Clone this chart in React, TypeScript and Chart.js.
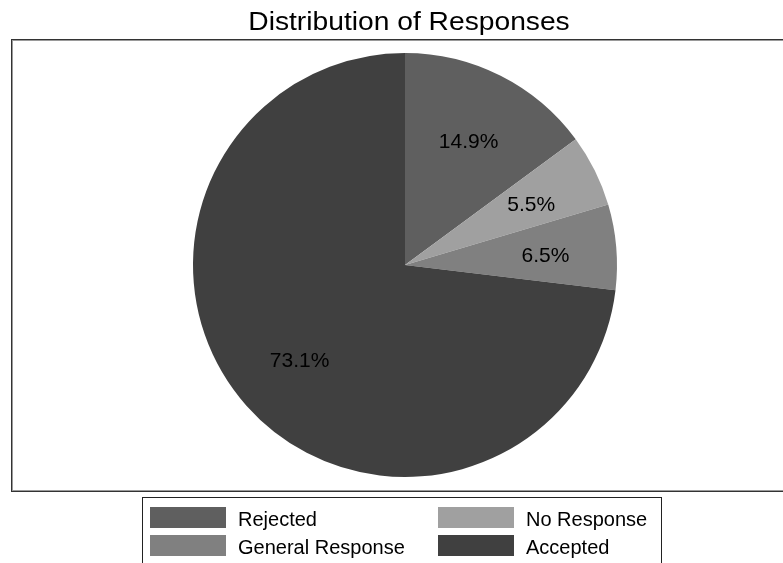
import React, { useEffect, useRef } from "react";
import { Chart, registerables } from "chart.js";

Chart.register(...registerables);

const categories = ["Rejected", "No Response", "General Response", "Accepted"];
const values = [14.9, 5.5, 6.5, 73.1];
const sliceColors = ["#5f5f5f", "#a0a0a0", "#808080", "#404040"];
const titleText = "Distribution of Responses";
const FONT = '"Liberation Sans", Arial, sans-serif';

const decorPlugin = {
  id: "decor",
  beforeDraw(chart: any) {
    const ctx = chart.ctx;
    ctx.save();
    ctx.fillStyle = "#ffffff";
    ctx.fillRect(0, 0, chart.width, chart.height);
    // title (slightly wide lettering, as in the reference)
    ctx.save();
    ctx.translate(409, 30);
    ctx.scale(1.085, 1);
    ctx.fillStyle = "#000000";
    ctx.font = `26px ${FONT}`;
    ctx.textAlign = "center";
    ctx.textBaseline = "alphabetic";
    ctx.fillText(titleText, 0, 0);
    ctx.restore();
    // plot box
    ctx.strokeStyle = "#333333";
    ctx.lineWidth = 1;
    ctx.strokeRect(11.5, 39.5, 800, 452);
    ctx.strokeStyle = "#9a9a9a";
    ctx.strokeRect(12.5, 40.5, 800, 450);
    ctx.restore();
  },
  afterDraw(chart: any) {
    const ctx = chart.ctx;
    const meta = chart.getDatasetMeta(0);
    ctx.save();
    // slice labels
    ctx.fillStyle = "#000000";
    ctx.font = `21px ${FONT}`;
    ctx.textAlign = "center";
    ctx.textBaseline = "middle";
    meta.data.forEach((arc: any, i: number) => {
      const mid = (arc.startAngle + arc.endAngle) / 2;
      const r = arc.outerRadius * 0.665;
      const x = arc.x + Math.cos(mid) * r;
      const y = arc.y + Math.sin(mid) * r + 3;
      ctx.fillText(values[i].toFixed(1) + "%", x, y);
    });
    // legend box
    ctx.strokeStyle = "#222222";
    ctx.lineWidth = 1;
    ctx.strokeRect(142.5, 497.5, 519, 100);
    const colX = [150, 438];
    const rowY = [507, 535];
    ctx.font = `20px ${FONT}`;
    ctx.textAlign = "left";
    ctx.textBaseline = "alphabetic";
    categories.forEach((c, i) => {
      const col = i % 2;
      const row = Math.floor(i / 2);
      ctx.fillStyle = sliceColors[i];
      ctx.fillRect(colX[col], rowY[row], 76, 21);
      ctx.fillStyle = "#000000";
      ctx.fillText(c, colX[col] + 88, rowY[row] + 19);
    });
    ctx.restore();
  },
};

export default function App() {
  const ref = useRef<HTMLCanvasElement | null>(null);
  useEffect(() => {
    document.body.style.margin = "0";
    const canvas = ref.current;
    if (!canvas) return;
    const chart = new Chart(canvas, {
      type: "pie",
      data: {
        labels: categories,
        datasets: [
          {
            data: values,
            backgroundColor: sliceColors,
            borderWidth: 0,
          },
        ],
      },
      options: {
        responsive: false,
        animation: false,
        devicePixelRatio: 1,
        layout: { padding: { top: 53, bottom: 86, left: 193, right: 166 } },
        plugins: {
          legend: { display: false },
          title: { display: false },
          tooltip: { enabled: false },
        },
      },
      plugins: [decorPlugin],
    });
    return () => chart.destroy();
  }, []);
  return (
    <canvas
      ref={ref}
      width={783}
      height={563}
      style={{ display: "block", width: 783, height: 563 }}
    />
  );
}
